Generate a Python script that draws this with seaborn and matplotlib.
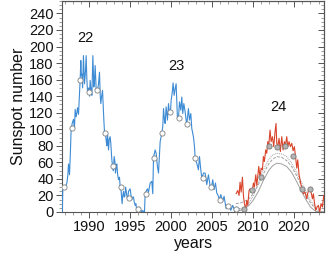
import numpy as np
import pandas as pd
import matplotlib
matplotlib.use("Agg")
import matplotlib.pyplot as plt
from matplotlib.ticker import MultipleLocator, FixedLocator, FixedFormatter, NullFormatter
import seaborn as sns

# ---- data (plot-year coordinates) ----
blue_x = [1986.65, 1986.72, 1986.78, 1986.95, 1987.1, 1987.28, 1987.4, 1987.48, 1987.6, 1987.7,
          1987.8, 1987.95, 1988.09, 1988.2, 1988.29, 1988.41, 1988.5, 1988.58, 1988.7, 1988.8,
          1988.9, 1988.98, 1989.05, 1989.1, 1989.2, 1989.3, 1989.43, 1989.55, 1989.63, 1989.72,
          1989.8, 1989.95, 1990.05, 1990.12, 1990.25, 1990.33, 1990.45, 1990.57, 1990.65, 1990.73,
          1990.85, 1991.0, 1991.14, 1991.26, 1991.35, 1991.42, 1991.52, 1991.63, 1991.72, 1991.79,
          1991.87, 1992.0, 1992.07, 1992.15, 1992.24, 1992.36, 1992.45, 1992.56, 1992.64, 1992.75,
          1992.85, 1992.95, 1993.05, 1993.15, 1993.21, 1993.3, 1993.37, 1993.48, 1993.58, 1993.7,
          1993.78, 1993.9, 1994.02, 1994.1, 1994.19, 1994.27, 1994.35, 1994.45, 1994.59, 1994.7,
          1994.8, 1995.0, 1995.1, 1995.2, 1995.3, 1995.41, 1995.5, 1995.61, 1995.7, 1995.81,
          1995.95, 1996.1, 1996.22, 1996.32, 1996.42, 1996.55, 1996.63, 1996.75, 1996.83, 1996.95,
          1997.11, 1997.24, 1997.44, 1997.64, 1997.76, 1997.85, 1998.05, 1998.17, 1998.33, 1998.46,
          1998.66, 1998.86, 1998.98, 1999.07, 1999.19, 1999.27, 1999.39, 1999.55, 1999.68, 1999.8,
          1999.92, 2000.0, 2000.12, 2000.24, 2000.37, 2000.49, 2000.61, 2000.77, 2000.89, 2001.02,
          2001.18, 2001.3, 2001.42, 2001.55, 2001.71, 2001.83, 2001.91, 2002.11, 2002.24, 2002.4,
          2002.52, 2002.72, 2002.85, 2002.93, 2003.13, 2003.33, 2003.46, 2003.62, 2003.74, 2003.95,
          2004.15, 2004.35, 2004.55, 2004.76, 2004.92, 2005.08, 2005.24, 2005.41, 2005.57, 2005.77,
          2005.89, 2006.06, 2006.3, 2006.46, 2006.71, 2006.87, 2007.11, 2007.28, 2007.52, 2007.8,
          2007.95, 2008.1, 2008.3]
blue_y = [0, 0, 28, 32, 30, 35, 45, 58, 45, 70,
          100, 108, 112, 100, 124, 115, 120, 126, 118, 140,
          160, 183, 165, 167, 150, 189, 155, 170, 189, 160,
          145, 150, 140, 159, 145, 141, 189, 151, 160, 177,
          149, 145, 155, 169, 140, 131, 140, 147, 125, 111,
          97, 92, 87, 80, 95, 75, 88, 91, 83, 65,
          55, 50, 67, 60, 47, 55, 58, 45, 39, 42,
          30, 25, 10, 20, 25, 18, 19, 30, 20, 15,
          25, 28, 20, 15, 18, 18, 12, 8, 10, 2,
          5, 6, 4, 2, 0, 2, 0, 0, 22, 25,
          28, 24, 35, 37, 22, 66, 75, 71, 55, 47,
          85, 95, 103, 125, 111, 107, 127, 111, 131, 119,
          121, 135, 143, 156, 141, 149, 155, 113, 113, 133,
          123, 139, 119, 131, 121, 111, 106, 125, 111, 119,
          101, 91, 79, 65, 59, 51, 67, 51, 41, 47,
          47, 33, 45, 31, 30, 39, 27, 35, 23, 19,
          15, 21, 13, 19, 4, 7, 8, 2, 8, 0,
          6, 2, 4]

red_x = [2007.93, 2008.13, 2008.29, 2008.41, 2008.54, 2008.7, 2008.82, 2008.94, 2009.11, 2009.23,
         2009.35, 2009.51, 2009.63, 2009.76, 2009.92, 2010.04, 2010.16, 2010.33, 2010.45, 2010.57,
         2010.69, 2010.85, 2010.98, 2011.14, 2011.26, 2011.38, 2011.54, 2011.67, 2011.79, 2011.91,
         2012.07, 2012.2, 2012.36, 2012.52, 2012.68, 2012.8, 2012.89, 2013.01, 2013.17, 2013.33,
         2013.5, 2013.66, 2013.82, 2013.94, 2014.11, 2014.23, 2014.39, 2014.55, 2014.72, 2014.88,
         2015.04, 2015.2, 2015.33, 2015.45, 2015.61, 2015.77, 2015.94, 2016.14, 2016.34, 2016.54,
         2016.75, 2016.95, 2017.07, 2017.24, 2017.36, 2017.48, 2017.64, 2017.8, 2017.97, 2018.13,
         2018.29, 2018.46, 2018.62, 2018.78]
red_y = [22, 26, 20, 36, 24, 42, 20, 10, 4, 14,
         8, 26, 28, 24, 27, 35, 30, 45, 32, 43,
         55, 42, 53, 51, 67, 61, 75, 71, 85, 80,
         99, 85, 91, 79, 97, 107, 83, 79, 89, 73,
         91, 75, 85, 80, 91, 79, 85, 79, 83, 74,
         79, 65, 53, 63, 45, 37, 28, 22, 24, 16,
         26, 27, 24, 16, 22, 12, 2, 6, 8, 0,
         10, 6, 20, 14]

white_x = [1986.92, 1987.92, 1988.92, 1989.92, 1990.92, 1991.92, 1992.92, 1993.92, 1994.92, 1995.92, 1996.92,
           1997.92, 1998.92, 1999.92, 2000.92, 2001.92, 2002.92, 2003.92, 2004.92, 2005.92, 2006.92, 2007.92]
white_y = [30, 101, 160, 145, 148, 96, 56, 30, 17, 4, 22,
           65, 95, 121, 113, 106, 65, 41, 30, 15, 7, 4]

grey_x = [2008.92, 2009.92, 2010.92, 2011.92, 2012.92, 2013.92, 2014.92, 2015.92, 2016.92]
grey_y = [4, 27, 42, 80, 79, 80, 67.5, 28, 28]

fit_x = [2007.9, 2008.5, 2009.0, 2009.5, 2010.0, 2010.6, 2011.2, 2011.9, 2012.4, 2012.9,
         2013.5, 2014.1, 2014.7, 2015.3, 2015.9, 2016.5, 2017.0, 2017.6, 2018.1, 2018.6]
fit_hi = [3, 4, 6, 11, 19, 34, 50, 63, 69, 71, 70, 67, 59, 48, 36, 24, 14, 6, 1, 0]
fit_mid = [10, 11, 13, 16, 22, 32, 45, 58, 64, 67, 66, 62, 55, 44, 32, 20, 11, 4, 0, 0]
fit_lo = [1, 2, 4, 8, 14, 24, 37, 50, 56, 59, 58, 55, 48, 37, 25, 14, 6, 1, 0, 0]

tick_pos = [1990, 1995, 2000, 2005, 2010, 2015]
tick_lab = ["1990", "1995", "2000", "2005", "2010", "2020"]
cycle_lab = ["22", "23", "24"]
cycle_x = [1989.5, 2000.6, 2013.1]
cycle_y = [210, 176, 127]

# ---- plot ----
sns.set_theme(style="ticks")
plt.rcParams['font.family'] = ['Liberation Sans', 'DejaVu Sans']

fig = plt.figure(figsize=(3.27, 2.56), dpi=100)
ax = fig.add_axes([0.19, 0.172, 0.801, 0.824])

blue = "#3d8bd4"
red = "#d9442b"
gcol = "#a0a0a0"

fits = pd.DataFrame({"x": fit_x * 3,
                     "y": fit_hi + fit_mid + fit_lo,
                     "k": ["hi"] * len(fit_x) + ["mid"] * len(fit_x) + ["lo"] * len(fit_x)})
for k, ls in zip(["hi", "mid", "lo"], [(0, (1, 1)), (0, (3, 1.5)), "-"]):
    sub = fits[fits.k == k]
    sns.lineplot(data=sub, x="x", y="y", ax=ax, color=gcol, lw=0.7, linestyle=ls, zorder=2)

sns.lineplot(x=blue_x, y=blue_y, ax=ax, color=blue, lw=0.8, zorder=3, sort=False)
sns.lineplot(x=red_x, y=red_y, ax=ax, color=red, lw=0.8, zorder=3, sort=False)

sns.scatterplot(x=white_x, y=white_y, ax=ax, s=14, color="white", edgecolor="#808080",
                linewidth=0.6, zorder=4)
sns.scatterplot(x=grey_x, y=grey_y, ax=ax, s=14, color="#b4b4b4", edgecolor="#7a7a7a",
                linewidth=0.6, zorder=4)

for t, xx, yy in zip(cycle_lab, cycle_x, cycle_y):
    ax.text(xx, yy, t, fontsize=10.5, ha="center", va="center", color="#111111")

ax.set_xlim(1986.7, 2018.66)
ax.set_ylim(0, 255)
ax.xaxis.set_major_locator(FixedLocator(tick_pos))
ax.xaxis.set_major_formatter(FixedFormatter(tick_lab))
ax.xaxis.set_minor_locator(MultipleLocator(1))
ax.yaxis.set_major_locator(MultipleLocator(20))
ax.yaxis.set_minor_locator(MultipleLocator(5))

for s in ax.spines.values():
    s.set_visible(True)
    s.set_color("#555555")
    s.set_linewidth(0.8)

ax.tick_params(axis="both", which="major", labelsize=10.5, length=4, width=0.7,
               colors="#555555", labelcolor="#111111", pad=2, direction="out")
ax.tick_params(axis="both", which="minor", length=2, width=0.5, colors="#777777", direction="out")

# inward ticks on top and right
top = ax.secondary_xaxis("top")
top.xaxis.set_major_locator(FixedLocator(tick_pos))
top.xaxis.set_minor_locator(MultipleLocator(1))
top.xaxis.set_major_formatter(NullFormatter())
top.tick_params(which="major", direction="in", length=4, width=0.7, colors="#555555")
top.tick_params(which="minor", direction="in", length=2, width=0.5, colors="#777777")
right = ax.secondary_yaxis("right")
right.yaxis.set_major_locator(MultipleLocator(20))
right.yaxis.set_minor_locator(MultipleLocator(5))
right.yaxis.set_major_formatter(NullFormatter())
right.tick_params(which="major", direction="in", length=4, width=0.7, colors="#555555")
right.tick_params(which="minor", direction="in", length=2, width=0.5, colors="#777777")
for sec in (top, right):
    for s in sec.spines.values():
        s.set_color("#555555")
        s.set_linewidth(0.8)

ax.set_xlabel("years", fontsize=11.5, color="#111111", labelpad=1)
ax.set_ylabel("Sunspot number", fontsize=11.5, color="#111111", labelpad=2)

fig.savefig("out.png", dpi=100)
